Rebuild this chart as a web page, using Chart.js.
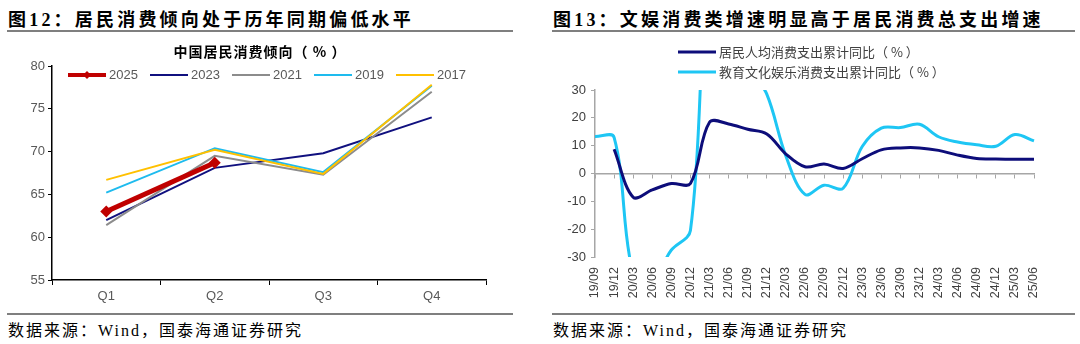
<!DOCTYPE html>
<html>
<head>
<meta charset="utf-8">
<script src="https://cdn.jsdelivr.net/npm/chart.js@4.4.1/dist/chart.umd.min.js"></script>
<style>
  body { margin: 0; background: #fff; }
  #page { position: relative; width: 1080px; height: 344px; overflow: hidden; background: #fff; }
  .fig-title { position: absolute; top: 5px; line-height: 24px; font: bold 18px "Liberation Serif", "Noto Sans CJK SC"; letter-spacing: 3.2px; color: #000; white-space: nowrap; }
  .rule { position: absolute; height: 2px; background: #7f7f7f; }
  .source { position: absolute; top: 317px; line-height: 22px; font: 16px "Liberation Serif", "Noto Sans CJK SC"; letter-spacing: 2px; color: #000; white-space: nowrap; }
  canvas { position: absolute; }
</style>
</head>
<body>
<div id="page">
  <div class="fig-title" style="left:8px">图12：居民消费倾向处于历年同期偏低水平</div>
  <div class="rule" style="left:7px;width:506px;top:30px"></div>
  <canvas id="ratioChart" width="540" height="270" style="left:0;top:40px"></canvas>
  <div class="rule" style="left:7px;width:506px;top:313px"></div>
  <div class="source" style="left:8px">数据来源：Wind，国泰海通证券研究</div>

  <div class="fig-title" style="left:553px">图13：文娱消费类增速明显高于居民消费总支出增速</div>
  <div class="rule" style="left:552px;width:523px;top:30px"></div>
  <canvas id="yoyChart" width="540" height="270" style="left:540px;top:40px"></canvas>
  <div class="rule" style="left:552px;width:523px;top:313px"></div>
  <div class="source" style="left:553px">数据来源：Wind，国泰海通证券研究</div>
</div>

<script>
// 图12 数据：中国居民消费倾向（%）
const quarters = ['Q1', 'Q2', 'Q3', 'Q4'];
const ratio2025 = [63.0, 68.7, null, null];
const ratio2023 = [62.0, 68.1, 69.8, 74.0];
const ratio2021 = [61.4, 69.5, 67.3, 77.0];
const ratio2019 = [65.2, 70.4, 67.6, 77.7];
const ratio2017 = [66.7, 70.2, 67.4, 77.8];
const ratioTicks = [55, 60, 65, 70, 75, 80];

// 图13 数据：累计同比（%）
const periods = ['19/09', '19/12', '20/03', '20/06', '20/09', '20/12', '21/03', '21/06',
    '21/09', '21/12', '22/03', '22/06', '22/09', '22/12', '23/03', '23/06',
    '23/09', '23/12', '24/03', '24/06', '24/09', '24/12', '25/03', '25/06'];
const totalYoY = [null, 8.7, -8.5, -5.9, -3.6, -3.6, 18.4, 17.8,
    15.9, 14.2, 7.0, 2.4, 3.4, 1.8, 5.3, 8.5,
    9.2, 9.2, 8.3, 6.6, 5.4, 5.2, 5.1, 5.1];
const cultureYoY = [13.3, 13.0, -36.1, -38.1, -27.5, -20.5, 75.0, 60.0,
    39.3, 28.5, 6.3, -7.5, -4.2, -5.3, 9.7, 16.3,
    16.5, 17.7, 13.2, 11.3, 10.3, 9.8, 14.0, 11.7];
const yoyTicks = [-30, -20, -10, 0, 10, 20, 30];

Chart.defaults.font.family = '"Liberation Sans", Arial, sans-serif';
Chart.defaults.animation = false;

function drawLegendItem(ctx, x, y, ds, font, color) {
    ctx.save();
    ctx.strokeStyle = ds.borderColor;
    ctx.lineWidth = Math.min(ds.borderWidth, 4);
    ctx.beginPath();
    ctx.moveTo(x, y);
    ctx.lineTo(x + 38, y);
    ctx.stroke();
    if (ds.pointRadius > 0) {
        // ruitje in het midden van de lijn
        const r = 4;
        ctx.fillStyle = ds.borderColor;
        ctx.beginPath();
        ctx.moveTo(x + 19, y - r);
        ctx.lineTo(x + 19 + r, y);
        ctx.lineTo(x + 19, y + r);
        ctx.lineTo(x + 19 - r, y);
        ctx.closePath();
        ctx.fill();
    }
    ctx.fillStyle = color;
    ctx.font = font;
    ctx.textBaseline = 'middle';
    ctx.textAlign = 'left';
    ctx.fillText(ds.label, x + 41, y);
    ctx.restore();
}

const ratioDeco = {
    id: 'ratioDeco',
    afterDraw(chart) {
        const ctx = chart.ctx;
        const area = chart.chartArea;
        ctx.save();
        ctx.fillStyle = '#000';
        ctx.font = 'bold 14px "Noto Sans CJK SC"';
        ctx.letterSpacing = '1px';
        ctx.textAlign = 'center';
        ctx.textBaseline = 'middle';
        ctx.fillText('中国居民消费倾向（ % ）', (area.left + area.right) / 2 - 9, 12);
        ctx.restore();
        chart.data.datasets.forEach((ds, i) => {
            drawLegendItem(ctx, area.left + 16 + i * 82, area.top + 9, ds, '13px "Liberation Sans"', '#595959');
        });
    }
};

const yoyDeco = {
    id: 'yoyDeco',
    afterDraw(chart) {
        const ctx = chart.ctx;
        const area = chart.chartArea;
        chart.data.datasets.forEach((ds, i) => {
            drawLegendItem(ctx, area.left + 83, 12 + i * 20, ds, '13px "Noto Sans CJK SC"', '#404040');
        });
    }
};

function lineSet(label, data, color, width) {
    return {
        label: label,
        data: data,
        borderColor: color,
        backgroundColor: color,
        borderWidth: width,
        pointRadius: 0,
        tension: 0
    };
}

// 图12
const ratioSets = [
    Object.assign(lineSet('2025', ratio2025, '#C00000', 5), {
        pointRadius: 6, pointStyle: 'rectRot', pointBorderWidth: 0, order: 0
    }),
    Object.assign(lineSet('2023', ratio2023, '#10107F', 2), { order: 4 }),
    Object.assign(lineSet('2021', ratio2021, '#8C8C8C', 2), { order: 3 }),
    Object.assign(lineSet('2019', ratio2019, '#1EBBEE', 2), { order: 2 }),
    Object.assign(lineSet('2017', ratio2017, '#FFC000', 2), { order: 1 })
];

new Chart(document.getElementById('ratioChart'), {
    type: 'line',
    data: { labels: quarters, datasets: ratioSets },
    options: {
        responsive: false,
        devicePixelRatio: 1,
        layout: { padding: { top: 26, right: 54, left: 0, bottom: 0 } },
        plugins: { legend: { display: false }, title: { display: false }, tooltip: { enabled: false } },
        scales: {
            x: {
                offset: true,
                grid: { offset: true, drawOnChartArea: false, color: '#000', tickLength: 5 },
                border: { color: '#000', width: 1.5 },
                ticks: { color: '#595959', font: { size: 13 }, padding: 4 },
                afterFit(scale) { scale.height = 30; }
            },
            y: {
                min: ratioTicks[0],
                max: ratioTicks[ratioTicks.length - 1],
                ticks: { stepSize: ratioTicks[1] - ratioTicks[0], color: '#595959', font: { size: 13 }, padding: 3 },
                grid: { drawOnChartArea: false, color: '#000', tickLength: 4 },
                border: { color: '#000', width: 1.5 },
                afterFit(scale) { scale.width = 52; }
            }
        }
    },
    plugins: [ratioDeco]
});

// 图13
const yoySets = [
    Object.assign(lineSet('居民人均消费支出累计同比（ % ）', totalYoY, '#0D0D7A', 3), { tension: 0.35 }),
    Object.assign(lineSet('教育文化娱乐消费支出累计同比（ % ）', cultureYoY, '#1EC6F4', 3), { tension: 0.35 })
];

new Chart(document.getElementById('yoyChart'), {
    type: 'line',
    data: { labels: periods, datasets: yoySets },
    options: {
        responsive: false,
        devicePixelRatio: 1,
        layout: { padding: { top: 50, right: 46, left: 0, bottom: 3 } },
        plugins: { legend: { display: false }, tooltip: { enabled: false } },
        scales: {
            x: {
                grid: { display: false },
                border: { display: false },
                ticks: { color: '#404040', font: { size: 12.5 }, minRotation: 90, maxRotation: 90, autoSkip: false, padding: 2 },
                afterFit(scale) { scale.height = 50; }
            },
            xZero: {
                type: 'category',
                position: { y: 0 },
                ticks: { display: false },
                grid: { drawOnChartArea: false, color: '#A6A6A6', tickLength: 4 },
                border: { color: '#A6A6A6', width: 1.5 }
            },
            y: {
                min: yoyTicks[0],
                max: yoyTicks[yoyTicks.length - 1],
                ticks: { stepSize: yoyTicks[1] - yoyTicks[0], color: '#404040', font: { size: 13 }, padding: 5 },
                grid: { drawOnChartArea: false, color: '#A6A6A6', tickLength: 4 },
                border: { color: '#A6A6A6', width: 1.5 },
                afterFit(scale) { scale.width = 55; }
            }
        }
    },
    plugins: [yoyDeco]
});
</script>
</body>
</html>
